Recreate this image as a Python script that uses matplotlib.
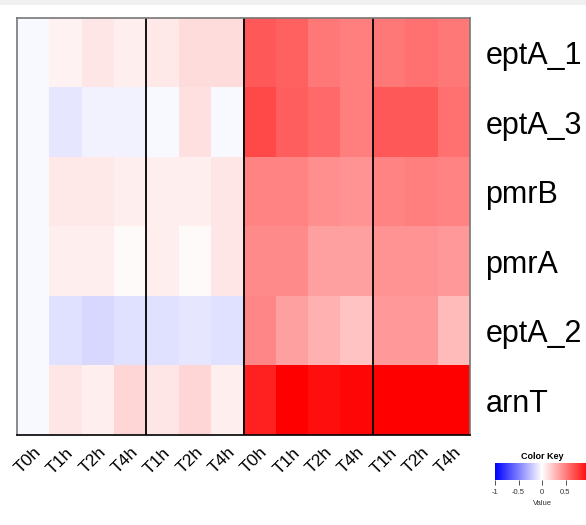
import numpy as np
import matplotlib
matplotlib.use("Agg")
import matplotlib.pyplot as plt
from matplotlib.patches import Rectangle

plt.rcParams['font.family'] = ['Liberation Sans', 'DejaVu Sans']

genes = ["eptA_1", "eptA_3", "pmrB", "pmrA", "eptA_2", "arnT"]
col_labels = ["T0h", "T1h", "T2h", "T4h", "T1h", "T2h", "T4h",
              "T0h", "T1h", "T2h", "T4h", "T1h", "T2h", "T4h"]
group_breaks = [4, 7, 11]
key_ticks = [-1, -0.5, 0, 0.5]
key_labels = ["-1", "-0.5", "0", "0.5"]

eptA_1 = [-0.03, 0.05, 0.10, 0.07, 0.09, 0.14, 0.14, 0.65, 0.61, 0.53, 0.50, 0.53, 0.55, 0.53]
eptA_3 = [-0.03, -0.10, -0.05, -0.05, -0.03, 0.12, -0.03, 0.71, 0.63, 0.58, 0.50, 0.65, 0.65, 0.56]
pmrB   = [-0.03, 0.09, 0.09, 0.07, 0.07, 0.07, 0.10, 0.48, 0.48, 0.44, 0.42, 0.48, 0.50, 0.48]
pmrA   = [-0.03, 0.07, 0.07, 0.02, 0.07, 0.02, 0.10, 0.46, 0.46, 0.37, 0.37, 0.42, 0.42, 0.40]
eptA_2 = [-0.03, -0.12, -0.15, -0.12, -0.12, -0.10, -0.12, 0.47, 0.37, 0.31, 0.23, 0.40, 0.40, 0.27]
arnT   = [-0.03, 0.10, 0.07, 0.16, 0.10, 0.16, 0.07, 0.87, 1.00, 0.94, 0.97, 1.00, 1.00, 1.00]

data = np.array([eptA_1, eptA_3, pmrB, pmrA, eptA_2, arnT])

W, H = 586, 525
fig = plt.figure(figsize=(W / 100, H / 100), dpi=100)
fig.patch.set_facecolor("white")

# light grey strip at top
fig.patches.append(Rectangle((0, 1 - 5 / H), 1, 5 / H, transform=fig.transFigure,
                             facecolor="#f0f0f0", edgecolor="none", zorder=0))

x0, x1, y0, y1 = 17, 470, 18, 435
ax = fig.add_axes([x0 / W, 1 - y1 / H, (x1 - x0) / W, (y1 - y0) / H])
im = ax.imshow(data, cmap="bwr", vmin=-1, vmax=1, aspect="auto", interpolation="nearest")
ax.set_xlim(-0.5, data.shape[1] - 0.5)
ax.set_ylim(data.shape[0] - 0.5, -0.5)

for b in group_breaks:
    ax.axvline(b - 0.5, color="black", lw=1.3)

for s in ["left", "top", "right"]:
    ax.spines[s].set_color("#777777")
    ax.spines[s].set_linewidth(1.2)
ax.spines["bottom"].set_color("black")
ax.spines["bottom"].set_linewidth(1.2)

ax.set_yticks(range(len(genes)))
ax.set_yticklabels(genes, fontsize=22)
ax.yaxis.tick_right()
ax.tick_params(axis="y", length=0, pad=11)

ax.set_xticks(range(len(col_labels)))
ax.set_xticklabels(col_labels, fontsize=12.5, rotation=45, ha="right", va="top",
                   rotation_mode="anchor")
ax.tick_params(axis="x", length=0, pad=7)

# colour key (extends past the right edge, as in the reference)
cx0, cx1, cy0, cy1 = 495, 589, 463, 480
cax = fig.add_axes([cx0 / W, 1 - cy1 / H, (cx1 - cx0) / W, (cy1 - cy0) / H])
grad = np.linspace(-1, 1, 256).reshape(1, -1)
cax.imshow(grad, cmap="bwr", vmin=-1, vmax=1, aspect="auto",
           extent=[-1, 1, 0, 1], interpolation="nearest")
cax.set_xlim(-1, 1)
cax.set_yticks([])
cax.set_xticks(key_ticks)
cax.set_xticklabels(key_labels, fontsize=5.5)
cax.tick_params(axis="x", length=3.5, width=0.6, pad=3, colors="#333333")
for s in cax.spines.values():
    s.set_visible(False)
cax.set_title("Color Key", fontsize=6.5, fontweight="bold", pad=3)
cax.set_xlabel("Value", fontsize=5.5, labelpad=3, color="#333333")

fig.savefig("out.png", dpi=100)
